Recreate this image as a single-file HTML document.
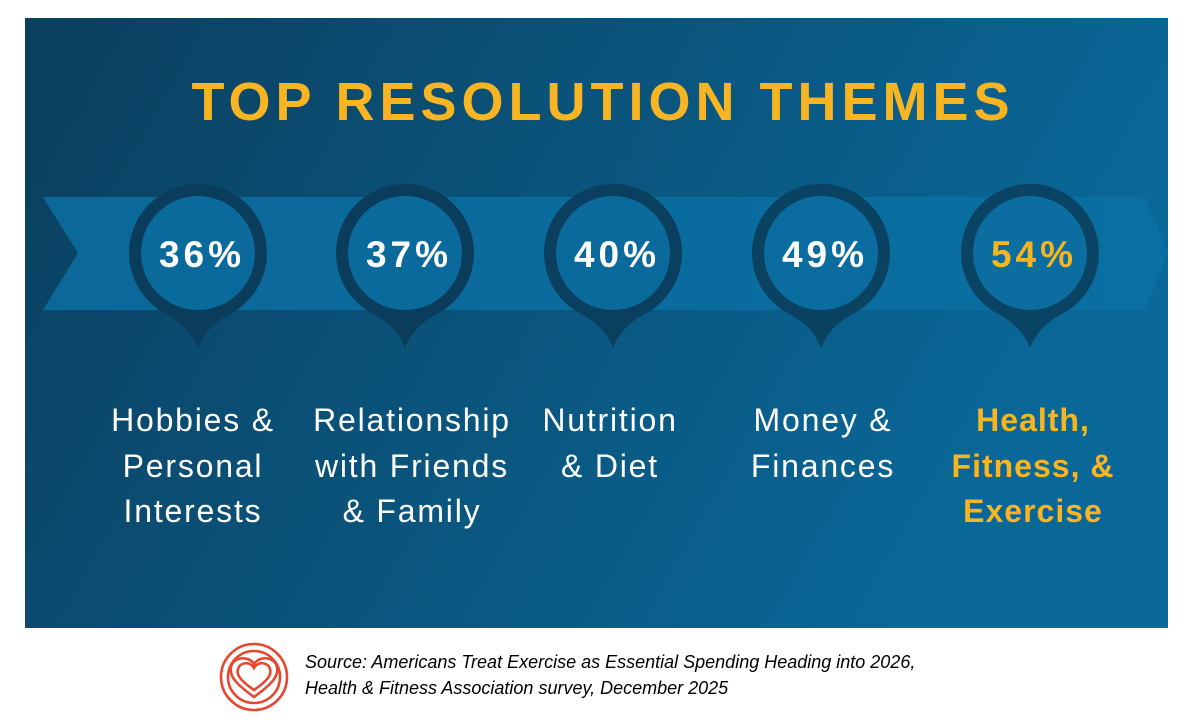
<!DOCTYPE html>
<html><head><meta charset="utf-8"><style>
body{margin:0;width:1196px;height:720px;background:#fff;overflow:hidden;font-family:"Liberation Sans",sans-serif}
</style></head><body>
<svg width="1196" height="720" xmlns="http://www.w3.org/2000/svg" style="position:absolute;left:0;top:0">
<defs>
<linearGradient id="bg" x1="0" y1="0" x2="1" y2="0.3">
<stop offset="0" stop-color="#0b3f5e"/><stop offset="1" stop-color="#0a6899"/>
</linearGradient>
<linearGradient id="rb" x1="0" y1="0" x2="1" y2="0">
<stop offset="0" stop-color="#0b6899"/><stop offset="1" stop-color="#0a6fa2"/>
</linearGradient>
</defs>
<rect x="25" y="18" width="1143" height="610" fill="url(#bg)"/>
<polygon points="43,197 1145,197 1168,253 1145,310 43,310 78,253" fill="url(#rb)"/>
<g id="pins">
<g transform="translate(198,253)"><path d="M-69,0 A69,69 0 1 1 30,62 Q8,74 0,95 Q-8,74 -30,62 A69,69 0 0 1 -69,0Z" fill="#0a3d5c"/><circle r="57" fill="#0b6a9c"/></g>
<g transform="translate(405,253)"><path d="M-69,0 A69,69 0 1 1 30,62 Q8,74 0,95 Q-8,74 -30,62 A69,69 0 0 1 -69,0Z" fill="#0a3d5c"/><circle r="57" fill="#0b6a9c"/></g>
<g transform="translate(613,253)"><path d="M-69,0 A69,69 0 1 1 30,62 Q8,74 0,95 Q-8,74 -30,62 A69,69 0 0 1 -69,0Z" fill="#0a3f5f"/><circle r="57" fill="#0b6a9c"/></g>
<g transform="translate(821,253)"><path d="M-69,0 A69,69 0 1 1 30,62 Q8,74 0,95 Q-8,74 -30,62 A69,69 0 0 1 -69,0Z" fill="#0a4262"/><circle r="57" fill="#0b6c9f"/></g>
<g transform="translate(1030,253)"><path d="M-69,0 A69,69 0 1 1 30,62 Q8,74 0,95 Q-8,74 -30,62 A69,69 0 0 1 -69,0Z" fill="#0a4464"/><circle r="57" fill="#0b6da0"/></g>
</g>
<g font-family="Liberation Sans, sans-serif" font-weight="bold" font-size="37" text-anchor="middle" letter-spacing="4">
<text x="202" y="267" fill="#fff">36%</text>
<text x="409" y="267" fill="#fff">37%</text>
<text x="617" y="267" fill="#fff">40%</text>
<text x="825" y="267" fill="#fff">49%</text>
<text x="1034" y="267" fill="#f8b521">54%</text>
</g>
<text x="603" y="120" text-anchor="middle" font-family="Liberation Sans, sans-serif" font-weight="bold" font-size="54" letter-spacing="5" fill="#f8b521">TOP RESOLUTION THEMES</text>
<g font-family="Liberation Sans, sans-serif" font-size="32" fill="#fff" text-anchor="middle" letter-spacing="1.8">
<text x="193" y="431">Hobbies &amp;</text><text x="193" y="477">Personal</text><text x="193" y="522">Interests</text>
<text x="412" y="431">Relationship</text><text x="412" y="477">with Friends</text><text x="412" y="522">&amp; Family</text>
<text x="610" y="431">Nutrition</text><text x="610" y="477">&amp; Diet</text>
<text x="823" y="431">Money &amp;</text><text x="823" y="477">Finances</text>
<g fill="#f8b521" font-weight="bold" letter-spacing="1"><text x="1033" y="431">Health,</text><text x="1033" y="477">Fitness, &amp;</text><text x="1033" y="522">Exercise</text></g>
</g>
<g fill="none" stroke="#e8472f" stroke-width="2.6">
<circle cx="254" cy="677" r="33"/>
<circle cx="254" cy="677" r="26"/>
<path d="M254,697 C236,684 229,676 231,667 C233,657 248,655 254,664 C260,655 275,657 277,667 C279,676 272,684 254,697Z"/>
<path d="M254,690 C241,681 236,675 238,669 C240,662 250,661 254,668 C258,661 268,662 270,669 C272,675 267,681 254,690Z"/>
</g>
<g font-family="Liberation Sans, sans-serif" font-style="italic" font-size="18" fill="#000">
<text x="305" y="668">Source: Americans Treat Exercise as Essential Spending Heading into 2026,</text>
<text x="305" y="694">Health &amp; Fitness Association survey, December 2025</text>
</g>
</svg>
</body></html>
